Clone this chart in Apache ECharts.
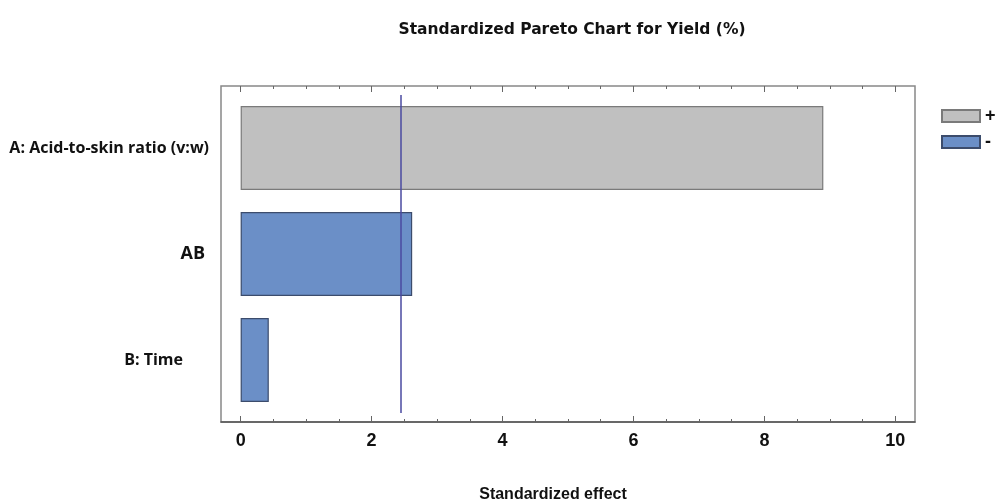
<!DOCTYPE html>
<html><head><meta charset="utf-8">
<script src="https://cdn.jsdelivr.net/npm/echarts@6/dist/echarts.min.js"></script>
<style>html,body{margin:0;padding:0;background:#fff}#c{width:1001px;height:503px}</style>
</head><body><div id="c"></div>
<script>
const categories = ['B: Time', 'AB', 'A: Acid-to-skin ratio (v:w)'];
const positiveEffects = [null, null, 8.90];
const negativeEffects = [0.43, 2.62, null];
const criticalValue = 2.447;
const xTickLabels = [0, 2, 4, 6, 8, 10];
const xMinorTicks = [0.5, 1, 1.5, 2.5, 3, 3.5, 4.5, 5, 5.5, 6.5, 7, 7.5, 8.5, 9, 9.5, 10.5];
const title = 'Standardized Pareto Chart for Yield (%)';
const xName = 'Standardized effect';

const XMIN = -0.3, XMAX = 10.3;
const font = 'Liberation Sans, Arial, sans-serif';
const titleFont = 'DejaVu Sans, sans-serif';
const labelFont = 'Open Sans, Noto Sans, sans-serif';

function xAx(grid, pos, ticks, len, showLabel, showLine) {
  return {
    type: 'value', gridIndex: grid, position: pos, min: XMIN, max: XMAX,
    splitLine: {show: false},
    axisLine: {show: showLine, onZero: false, lineStyle: {color: '#555', width: 1.5}},
    axisTick: {show: true, inside: true, length: len, customValues: ticks, lineStyle: {color: '#666'}},
    axisLabel: {show: showLabel, customValues: ticks, margin: 10, color: '#111',
      fontFamily: font, fontWeight: 'bold', fontSize: 18},
    minorTick: {show: false}
  };
}

const chart = echarts.init(document.getElementById('c'), null, {renderer: 'canvas'});
chart.setOption({
  animation: false,
  title: {text: title, left: 567, top: 17, textAlign: 'center',
    textStyle: {fontFamily: titleFont, fontWeight: 'bold', fontSize: 15.5, color: '#111'}},
  legend: {
    orient: 'vertical', left: 936, top: 102, itemWidth: 38, itemHeight: 12, itemGap: 8,
    icon: 'rect', data: ['+', '-'],
    textStyle: {fontFamily: font, fontWeight: 'bold', fontSize: 18, color: '#111'}
  },
  grid: [
    {left: 221, right: 86, top: 86, bottom: 81, show: true, borderColor: '#888', borderWidth: 1.5, backgroundColor: 'transparent'},
    {left: 221, right: 86, top: 95, bottom: 90}
  ],
  xAxis: [
    xAx(0, 'bottom', xTickLabels, 6, true, true),
    xAx(0, 'bottom', xMinorTicks, 3, false, false),
    xAx(0, 'top', xTickLabels, 6, false, false),
    xAx(0, 'top', xMinorTicks, 3, false, false),
    {type: 'value', gridIndex: 1, min: XMIN, max: XMAX, show: false}
  ],
  yAxis: [
    {type: 'value', gridIndex: 0, show: false, min: 0, max: 1},
    {type: 'category', gridIndex: 1, data: categories,
      axisLine: {show: false}, axisTick: {show: false},
      axisLabel: {margin: 12, color: '#111',
        formatter: function (v) {
          const k = categories.indexOf(v);
          return '{r' + k + '|' + v + '}';
        },
        rich: {
          r0: {fontFamily: labelFont, fontWeight: 'bold', fontSize: 16, color: '#111', padding: [0, 26, 0, 0]},
          r1: {fontFamily: labelFont, fontWeight: 'bold', fontSize: 18, color: '#111', padding: [0, 4, 0, 0]},
          r2: {fontFamily: labelFont, fontWeight: 'bold', fontSize: 16, color: '#111'}
        }
      }}
  ],
  graphic: [{type: 'text', x: 553, y: 487,
    style: {text: xName, font: 'bold 16px ' + font, fill: '#111', textAlign: 'center'}}],
  series: [
    {name: '+', type: 'bar', xAxisIndex: 4, yAxisIndex: 1, stack: 'e', data: positiveEffects,
      barWidth: 84,
      itemStyle: {color: '#c0c0c0', borderColor: '#7a7a7a', borderWidth: 1.2}},
    {name: '-', type: 'bar', xAxisIndex: 4, yAxisIndex: 1, stack: 'e', data: negativeEffects,
      barWidth: 84,
      itemStyle: {color: '#6b8fc7', borderColor: '#3c4c6c', borderWidth: 1.2},
      markLine: {silent: true, symbol: 'none', label: {show: false},
        lineStyle: {color: '#4a4aa0', width: 1.5, type: 'solid'},
        data: [{xAxis: criticalValue}]}}
  ]
});
</script></body></html>
